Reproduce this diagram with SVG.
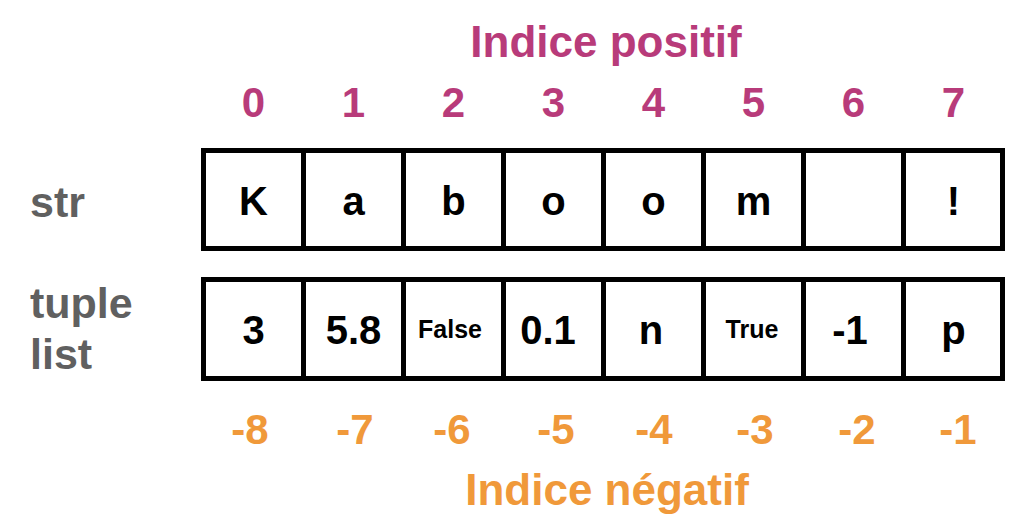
<svg xmlns="http://www.w3.org/2000/svg" width="1024" height="529" viewBox="0 0 1024 529">
<style>
text{font-family:"Liberation Sans",Arial,sans-serif;font-weight:bold;text-anchor:middle}
.pos{fill:#b83b7a;font-size:42px}
.neg{fill:#f0993a;font-size:42px}
.title-pos{fill:#b83b7a;font-size:44px}
.title-neg{fill:#f0993a;font-size:44px}
.lab{fill:#606060;font-size:43px;text-anchor:start}
.cell rect{fill:#fff;stroke:#000;stroke-width:5}
.v{fill:#000;font-size:40px}
.s{fill:#000;font-size:25px}
</style>
<rect width="1024" height="529" fill="#fff"/>
<g id="title-positif"><text class="title-pos" x="606" y="57">Indice positif</text></g>
<g id="positive-indices">
<text class="pos" x="253.5" y="117">0</text>
<text class="pos" x="353.5" y="117">1</text>
<text class="pos" x="453.5" y="117">2</text>
<text class="pos" x="553.5" y="117">3</text>
<text class="pos" x="653.5" y="117">4</text>
<text class="pos" x="753.5" y="117">5</text>
<text class="pos" x="853.5" y="117">6</text>
<text class="pos" x="953.5" y="117">7</text>
</g>
<g id="labels">
<text class="lab" x="30" y="217">str</text>
<text class="lab" x="30" y="318">tuple</text>
<text class="lab" x="30" y="369">list</text>
</g>
<g id="str-row">
<g id="s0" class="cell"><rect x="203.5" y="150.5" width="100" height="98"/><text class="v" x="253.5" y="215">K</text></g>
<g id="s1" class="cell"><rect x="303.5" y="150.5" width="100" height="98"/><text class="v" x="353.5" y="215">a</text></g>
<g id="s2" class="cell"><rect x="403.5" y="150.5" width="100" height="98"/><text class="v" x="453.5" y="215">b</text></g>
<g id="s3" class="cell"><rect x="503.5" y="150.5" width="100" height="98"/><text class="v" x="553.5" y="215">o</text></g>
<g id="s4" class="cell"><rect x="603.5" y="150.5" width="100" height="98"/><text class="v" x="653.5" y="215">o</text></g>
<g id="s5" class="cell"><rect x="703.5" y="150.5" width="100" height="98"/><text class="v" x="753.5" y="215">m</text></g>
<g id="s6" class="cell"><rect x="803.5" y="150.5" width="100" height="98"/></g>
<g id="s7" class="cell"><rect x="903.5" y="150.5" width="99" height="98"/><text class="v" x="953.5" y="215">!</text></g>
</g>
<g id="list-row">
<g id="t0" class="cell"><rect x="203.5" y="279.5" width="100" height="99"/><text class="v" x="253.5" y="344">3</text></g>
<g id="t1" class="cell"><rect x="303.5" y="279.5" width="100" height="99"/><text class="v" x="353.5" y="344">5.8</text></g>
<g id="t2" class="cell"><rect x="403.5" y="279.5" width="100" height="99"/><text class="s" x="450" y="338">False</text></g>
<g id="t3" class="cell"><rect x="503.5" y="279.5" width="100" height="99"/><text class="v" x="548" y="344">0.1</text></g>
<g id="t4" class="cell"><rect x="603.5" y="279.5" width="100" height="99"/><text class="v" x="651" y="344">n</text></g>
<g id="t5" class="cell"><rect x="703.5" y="279.5" width="100" height="99"/><text class="s" x="752" y="338">True</text></g>
<g id="t6" class="cell"><rect x="803.5" y="279.5" width="100" height="99"/><text class="v" x="850" y="344">-1</text></g>
<g id="t7" class="cell"><rect x="903.5" y="279.5" width="99" height="99"/><text class="v" x="953.5" y="344">p</text></g>
</g>
<g id="negative-indices">
<text class="neg" x="250" y="444">-8</text>
<text class="neg" x="355" y="444">-7</text>
<text class="neg" x="452" y="444">-6</text>
<text class="neg" x="556" y="444">-5</text>
<text class="neg" x="654" y="444">-4</text>
<text class="neg" x="755" y="444">-3</text>
<text class="neg" x="857" y="444">-2</text>
<text class="neg" x="958" y="444">-1</text>
</g>
<g id="title-negatif"><text class="title-neg" x="607" y="505">Indice négatif</text></g>
<g id="connectors"/>
</svg>
